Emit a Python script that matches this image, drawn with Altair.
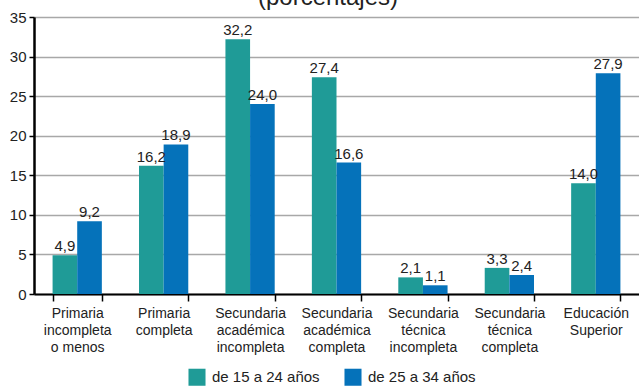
import altair as alt
import pandas as pd

categories = [
    "Primaria|incompleta|o menos",
    "Primaria|completa",
    "Secundaria|académica|incompleta",
    "Secundaria|académica|completa",
    "Secundaria|técnica|incompleta",
    "Secundaria|técnica|completa",
    "Educación|Superior",
]
series = ["de 15 a 24 años", "de 25 a 34 años"]
values_15_24 = [4.9, 16.2, 32.2, 27.4, 2.1, 3.3, 14.0]
values_25_34 = [9.2, 18.9, 24.0, 16.6, 1.1, 2.4, 27.9]
y_ticks = [0, 5, 10, 15, 20, 25, 30, 35]
colors = ["#1f9b97", "#0572ba"]

rows = []
for c, a, b in zip(categories, values_15_24, values_25_34):
    rows.append({"cat": c, "serie": series[0], "v": a})
    rows.append({"cat": c, "serie": series[1], "v": b})
df = pd.DataFrame(rows)

FONT = "Liberation Sans Narrow, Liberation Sans, sans-serif"

x = alt.X("cat:N", sort=categories, title=None,
          scale=alt.Scale(paddingInner=0.43, paddingOuter=0.215),
          axis=alt.Axis(labelAngle=0, tickBand="extent", labelExpr="split(datum.label, '|')",
                        labelFont=FONT, labelFontSize=14, labelColor="#222",
                        labelLineHeight=17, labelPadding=5, labelBaseline="top",
                        tickSize=7, tickColor="#000", tickWidth=1.5,
                        domainColor="#000", domainWidth=2, grid=False))
xo = alt.XOffset("serie:N", sort=series)
y = alt.Y("v:Q", title=None,
          scale=alt.Scale(domain=[0, 35], nice=False),
          axis=alt.Axis(values=y_ticks, labelOverlap=False, labelFont=FONT, labelFontSize=15,
                        labelColor="#222", tickSize=5, tickColor="#000", tickWidth=1.5,
                        domainColor="#000", domainWidth=2.5, gridColor="#a8a8a8",
                        gridWidth=1.5, labelPadding=3))

base = alt.Chart(df).transform_calculate(
    lab="replace(format(datum.v, '.1f'), '.', ',')"
).encode(x=x, xOffset=xo, y=y)

bars = base.mark_bar().encode(
    color=alt.Color("serie:N", sort=series, title=None,
                    scale=alt.Scale(domain=series, range=colors),
                    legend=alt.Legend(orient="none", direction="horizontal", legendX=154, legendY=351,
                                      symbolType="square", symbolSize=290, symbolStrokeWidth=0,
                                      symbolOpacity=1, labelFont=FONT, labelFontSize=15,
                                      labelColor="#222", columnPadding=24, labelOffset=6)),
)

labels = base.mark_text(baseline="bottom", dy=-1, font=FONT, fontSize=15, color="#222").encode(
    text="lab:N",
)

title = alt.Chart(pd.DataFrame({"t": ["(porcentajes)"]})).mark_text(
    baseline="alphabetic", font=FONT, fontSize=24, color="#222"
).encode(x=alt.value(294), y=alt.value(-12), text="t:N")

chart = alt.layer(bars, labels, title).properties(
    width=605, height=277,
    autosize=alt.AutoSizeParams(type="none"),
    padding={"left": 34, "top": 17, "right": 0, "bottom": 93},
).configure_view(stroke=None).configure(background="white")

chart.save("out.html", embed_options={"renderer": "svg", "actions": False})
